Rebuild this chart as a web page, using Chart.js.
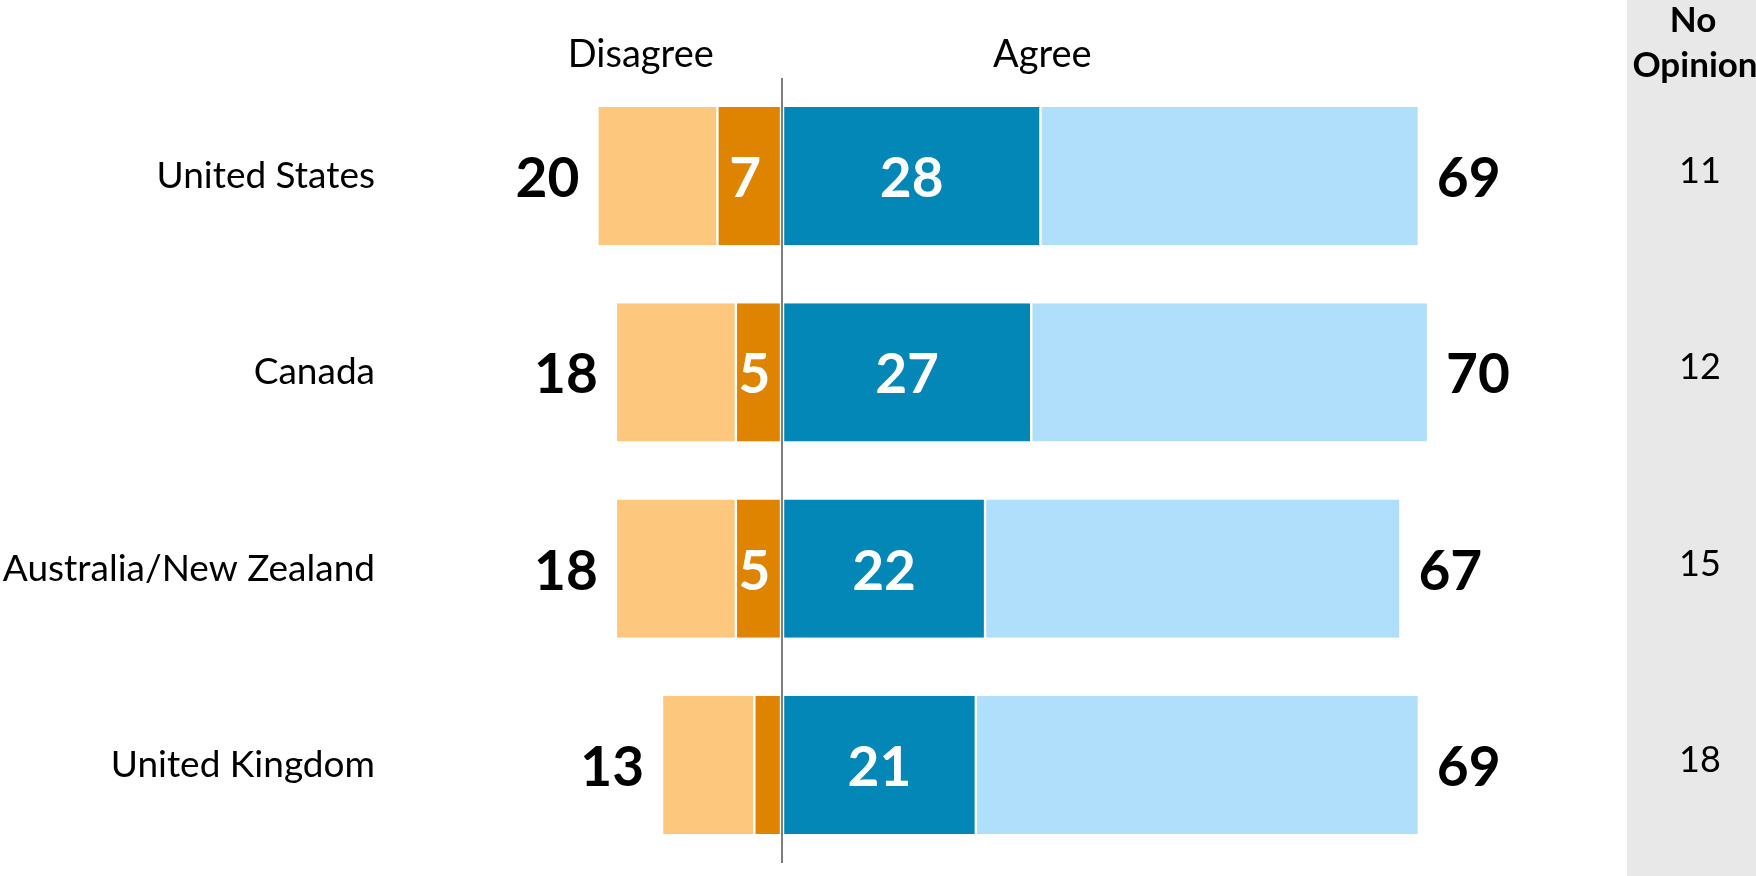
<!DOCTYPE html>
<html>

<head>
    <title>Agree / Disagree</title>
    <!-- Chart JS -->
    <script src="https://cdn.jsdelivr.net/npm/chart.js@4.4.1/dist/chart.umd.min.js"></script>
    <style>
        body { margin: 0; background: #fff; }
        #wrap { width: 1756px; height: 876px; position: relative; }
    </style>
</head>

<body>
    <div id="wrap"><canvas id="myChart"></canvas></div>
    <script>

        var categories = ['United States', 'Canada', 'Australia/New Zealand', 'United Kingdom'];
        var strongDisagree = [7, 5, 5, 3];
        var totalDisagree = [20, 18, 18, 13];
        var strongAgree = [28, 27, 22, 21];
        var totalAgree = [69, 70, 67, 69];
        var noOpinion = [11, 12, 15, 18];

        // the chart draws disagree to the left, so those go negative
        var somewhatDisagree = [];
        var somewhatAgree = [];
        for (var i = 0; i < categories.length; i++) {
            somewhatDisagree.push(-(totalDisagree[i] - strongDisagree[i]));
            somewhatAgree.push(totalAgree[i] - strongAgree[i]);
        }
        var strongDisagreeNeg = strongDisagree.map(function (v) { return -v; });

        var FONT = 'Lato, "Open Sans", sans-serif';
        var COLUMN_LEFT = 1627;

        var labelsPlugin = {
            id: 'labels',
            beforeDraw: function (chart) {
                var ctx = chart.ctx;
                ctx.save();
                ctx.fillStyle = '#e8e8e8';
                ctx.fillRect(COLUMN_LEFT, 0, chart.width - COLUMN_LEFT, chart.height);
                ctx.restore();
            },
            afterDraw: function (chart) {
                var ctx = chart.ctx;
                var xs = chart.scales.x;
                var ys = chart.scales.y;
                var m0 = chart.getDatasetMeta(0).data;
                var m1 = chart.getDatasetMeta(1).data;
                var m2 = chart.getDatasetMeta(2).data;
                var m3 = chart.getDatasetMeta(3).data;
                ctx.save();

                // headers
                ctx.fillStyle = '#000';
                ctx.font = '38px ' + FONT;
                ctx.textAlign = 'center';
                ctx.textBaseline = 'alphabetic';
                ctx.fillText('Disagree', xs.getPixelForValue(-15.3), 67);
                ctx.fillText('Agree', xs.getPixelForValue(28.2), 67);

                ctx.font = 'bold 35px ' + FONT;
                ctx.fillText('No', 1693, 32);
                ctx.fillText('Opinion', 1695, 77);

                for (var i = 0; i < categories.length; i++) {
                    var y = ys.getPixelForValue(i);

                    // white numbers inside the dark bars
                    ctx.font = 'bold 55px ' + FONT;
                    ctx.fillStyle = '#fff';
                    ctx.textAlign = 'center';
                    if (strongDisagree[i] >= 5) {
                        var b = m0[i];
                        ctx.fillText(strongDisagree[i], (b.x + b.base) / 2 - 4, y + 21);
                    }
                    var a = m2[i];
                    ctx.fillText(strongAgree[i], (a.x + a.base) / 2, y + 21);

                    // totals outside
                    ctx.fillStyle = '#000';
                    ctx.textAlign = 'right';
                    ctx.fillText(totalDisagree[i], m1[i].x - 18, y + 21);
                    ctx.textAlign = 'left';
                    ctx.fillText(totalAgree[i], m3[i].x + 18, y + 21);

                    // no opinion column
                    ctx.font = '36px ' + FONT;
                    ctx.textAlign = 'center';
                    ctx.fillText(noOpinion[i], 1700, y + 7);
                }
                ctx.restore();
            }
        };

        var ctx = document.getElementById('myChart').getContext('2d');
        var chart = new Chart(ctx, {
            type: 'bar',
            data: {
                labels: categories,
                datasets: [{
                    label: 'Strongly disagree',
                    data: strongDisagreeNeg,
                    backgroundColor: '#de8400'
                }, {
                    label: 'Somewhat disagree',
                    data: somewhatDisagree,
                    backgroundColor: '#fdc87d'
                }, {
                    label: 'Strongly agree',
                    data: strongAgree,
                    backgroundColor: '#0287b6'
                }, {
                    label: 'Somewhat agree',
                    data: somewhatAgree,
                    backgroundColor: '#b0dffc'
                }]
            },
            options: {
                indexAxis: 'y',
                responsive: true,
                maintainAspectRatio: false,
                animation: false,
                datasets: {
                    bar: {
                        categoryPercentage: 1,
                        barPercentage: 0.705,
                        borderColor: '#ffffff',
                        borderWidth: { left: 1.2, right: 1.2, top: 0, bottom: 0 },
                        borderSkipped: false
                    }
                },
                layout: { padding: { top: 78, bottom: 13, left: 0, right: 129 } },
                plugins: {
                    legend: { display: false },
                    tooltip: { enabled: false }
                },
                scales: {
                    x: {
                        stacked: true,
                        min: -41.39,
                        max: 91.55,
                        z: 1,
                        ticks: { display: false, stepSize: 10 },
                        border: { display: false },
                        grid: {
                            drawTicks: false,
                            lineWidth: 2,
                            color: function (c) {
                                return c.tick && c.tick.value === 0 ? '#7f7f7f' : 'rgba(0,0,0,0)';
                            }
                        },
                        afterFit: function (s) { s.height = 0; }
                    },
                    y: {
                        stacked: true,
                        ticks: {
                            color: '#000',
                            padding: 25,
                            font: { family: FONT, size: 37 }
                        },
                        border: { display: false },
                        grid: { display: false, drawTicks: false },
                        afterFit: function (s) {
                            s.width = 400;
                            s.paddingTop = 0;
                            s.paddingBottom = 0;
                        }
                    }
                }
            },
            plugins: [labelsPlugin]
        });
    </script>
</body>

</html>
